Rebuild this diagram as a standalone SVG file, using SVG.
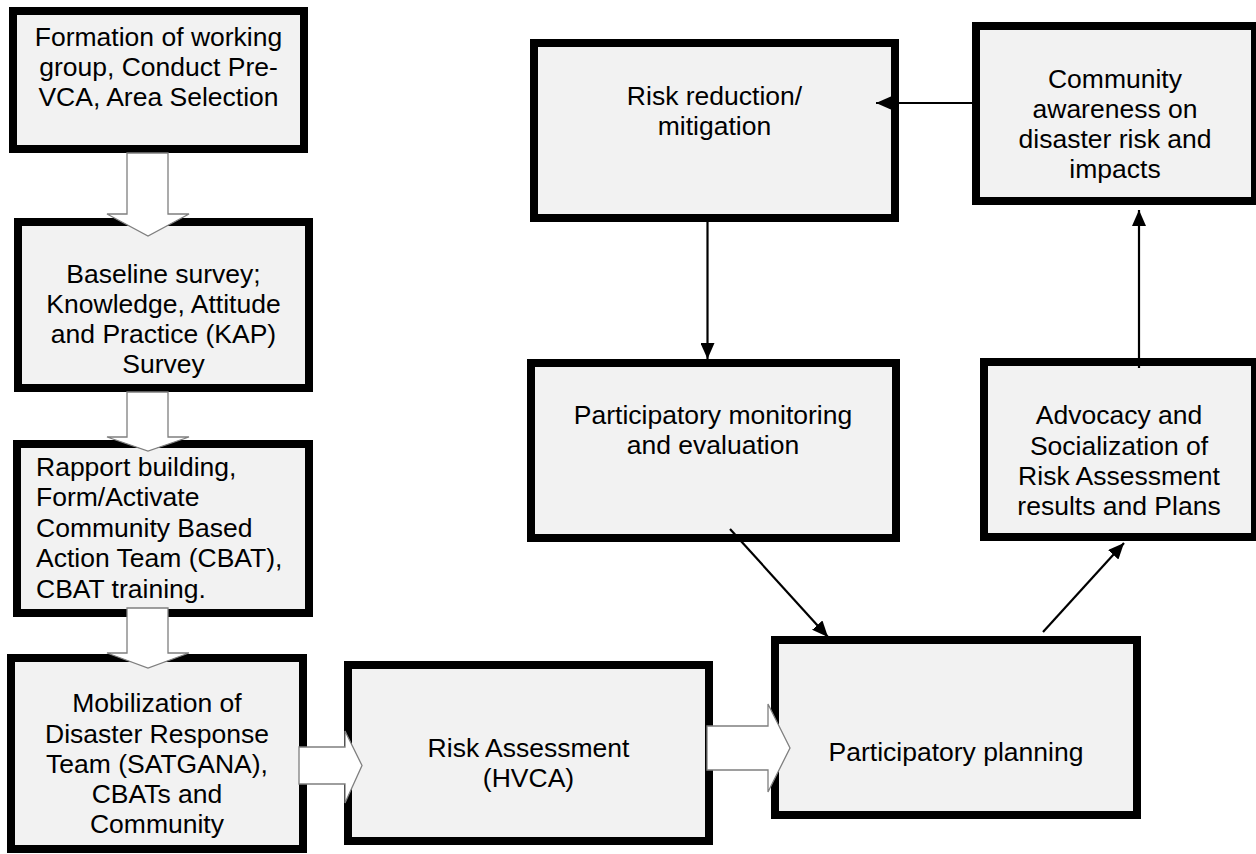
<svg xmlns="http://www.w3.org/2000/svg" width="1256" height="854" viewBox="0 0 1256 854">
<defs>
<style>
.box{fill:#f2f2f2;stroke:#000;stroke-width:8}
.t{font-family:"Liberation Sans",Arial,sans-serif;font-size:26.5px;fill:#000;text-anchor:middle}
.tl{text-anchor:start}
.blk{fill:#fff;stroke:#7f7f7f;stroke-width:1.3}
.ln{fill:none;stroke:#000;stroke-width:2.2}
</style>
<marker id="ah" viewBox="0 0 16 14" refX="16" refY="7" markerWidth="16" markerHeight="14" markerUnits="userSpaceOnUse" orient="auto">
<path d="M0,0 L16,7 L0,14 z" fill="#000"/>
</marker>
</defs>
<rect width="1256" height="854" fill="#fff"/>
<g id="n1"><rect class="box" x="13" y="11" width="291" height="138"/>
<text class="t" x="158.5"><tspan x="158.5" y="46">Formation of working</tspan><tspan x="158.5" y="76">group, Conduct Pre-</tspan><tspan x="158.5" y="106">VCA, Area Selection</tspan></text></g>
<g id="n2"><rect class="box" x="18" y="222" width="291" height="166"/>
<text class="t"><tspan x="163.5" y="283">Baseline survey;</tspan><tspan x="163.5" y="313">Knowledge, Attitude</tspan><tspan x="163.5" y="343">and Practice (KAP)</tspan><tspan x="163.5" y="373">Survey</tspan></text></g>
<g id="n3"><rect class="box" x="17" y="444" width="292" height="169"/>
<text class="t tl"><tspan x="36" y="475.5">Rapport building,</tspan><tspan x="36" y="506">Form/Activate</tspan><tspan x="36" y="536.5">Community Based</tspan><tspan x="36" y="567">Action Team (CBAT),</tspan><tspan x="36" y="597.5">CBAT training.</tspan></text></g>
<g id="n4"><rect class="box" x="11" y="658" width="292" height="191"/>
<text class="t"><tspan x="157" y="712">Mobilization of</tspan><tspan x="157" y="742.5">Disaster Response</tspan><tspan x="157" y="773">Team (SATGANA),</tspan><tspan x="157" y="803">CBATs and</tspan><tspan x="157" y="833">Community</tspan></text></g>
<g id="n5"><rect class="box" x="348" y="665" width="361" height="176"/>
<text class="t"><tspan x="528.5" y="757">Risk Assessment</tspan><tspan x="528.5" y="787">(HVCA)</tspan></text></g>
<g id="n6"><rect class="box" x="775" y="640" width="362" height="175"/>
<text class="t"><tspan x="956" y="761">Participatory planning</tspan></text></g>
<g id="n7"><rect class="box" x="531" y="363" width="365" height="175"/>
<text class="t"><tspan x="713" y="424">Participatory monitoring</tspan><tspan x="713" y="454">and evaluation</tspan></text></g>
<g id="n8"><rect class="box" x="534" y="43" width="361" height="175"/>
<text class="t"><tspan x="714.5" y="105">Risk reduction/</tspan><tspan x="714.5" y="135">mitigation</tspan></text></g>
<g id="n9"><rect class="box" x="976" y="26" width="279" height="175"/>
<text class="t"><tspan x="1115" y="88">Community</tspan><tspan x="1115" y="118">awareness on</tspan><tspan x="1115" y="148">disaster risk and</tspan><tspan x="1115" y="178">impacts</tspan></text></g>
<g id="n10"><rect class="box" x="984" y="362" width="271" height="175"/>
<text class="t"><tspan x="1119" y="424">Advocacy and</tspan><tspan x="1119" y="455">Socialization of</tspan><tspan x="1119" y="485">Risk Assessment</tspan><tspan x="1119" y="515">results and Plans</tspan></text></g>
<g id="connectors">
<polygon class="blk" points="127,153 168,153 168,214 189,214 148,236 107,214 127,214"/>
<polygon class="blk" points="127,392 168,392 168,437 189,437 148,451 107,437 127,437"/>
<polygon class="blk" points="127,608 168,608 168,653 189,653 148,668 107,653 127,653"/>
<polygon class="blk" points="299,747 345,747 345,731 362,765.5 345,803 345,784 299,784"/>
<polygon class="blk" points="707,726 768,726 768,704 790,748 768,792 768,770 707,770"/>
<line class="ln" x1="707.5" y1="222" x2="707.5" y2="359" marker-end="url(#ah)"/>
<line class="ln" x1="972" y1="103" x2="876" y2="103" marker-end="url(#ah)"/>
<line class="ln" x1="1139" y1="368" x2="1139" y2="210" marker-end="url(#ah)"/>
<line class="ln" x1="730" y1="529" x2="828" y2="637" marker-end="url(#ah)"/>
<line class="ln" x1="1043" y1="632" x2="1124" y2="543" marker-end="url(#ah)"/>
</g>
</svg>
